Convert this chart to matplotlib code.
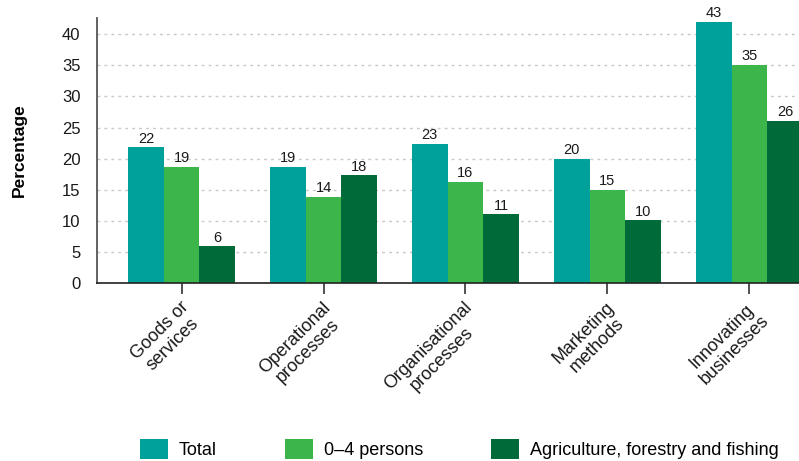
import numpy as np
import matplotlib.pyplot as plt
import matplotlib.transforms as mtransforms

plt.rcParams['font.family'] = ['Liberation Sans', 'DejaVu Sans']

categories = ['Goods or\nservices', 'Operational\nprocesses', 'Organisational\nprocesses',
              'Marketing\nmethods', 'Innovating\nbusinesses']
series_names = ['Total', '0\u20134 persons', 'Agriculture, forestry and fishing']

total = [21.9, 18.7, 22.4, 20.0, 42.0]
small = [18.7, 13.9, 16.3, 15.0, 35.1]
agri = [6.0, 17.4, 11.1, 10.1, 26.1]
total_lbl = ['22', '19', '23', '20', '43']
small_lbl = ['19', '14', '16', '15', '35']
agri_lbl = ['6', '18', '11', '10', '26']

colors = ['#00a19a', '#3cb54a', '#006a38']

fig = plt.figure(figsize=(7.99, 4.61), dpi=100)
ax = fig.add_axes([97 / 799, 1 - 283.3 / 461, 1 - 97 / 799, (283.3 - 18) / 461])

x = np.arange(len(categories))
w = 0.251
handles = []
for i, (vals, lbls) in enumerate([(total, total_lbl), (small, small_lbl), (agri, agri_lbl)]):
    bars = ax.bar(x + (i - 1) * w, vals, w, color=colors[i], label=series_names[i], zorder=3)
    handles.append(bars)
    for b, t in zip(bars, lbls):
        ax.annotate(t, (b.get_x() + b.get_width() / 2, b.get_height()), xytext=(0, 1),
                    textcoords='offset points', ha='center', va='bottom', fontsize=10.5,
                    color='#1a1a1a', clip_on=False)

ax.set_xlim(-0.596, 4.35)
ax.set_ylim(0, 42.6)
ax.set_yticks(range(0, 41, 5))
ax.tick_params(axis='y', length=0, labelsize=12, pad=12, labelcolor='#1a1a1a')
ax.tick_params(axis='x', length=8, width=1.2, color='#333333', direction='out')
ax.set_xticks(x)
ax.set_xticklabels(categories, rotation=45, ha='right', va='center', rotation_mode='anchor',
                   fontsize=13, linespacing=1.1, multialignment='center', color='#1a1a1a')
off = mtransforms.ScaledTranslation(11 / 100, -12 / 100, fig.dpi_scale_trans)
for lab in ax.get_xticklabels():
    lab.set_transform(lab.get_transform() + off)

ax.yaxis.grid(True, linestyle=(0, (2, 3)), color='#c8c8c8', linewidth=1, zorder=0)
for s in ['top', 'right']:
    ax.spines[s].set_visible(False)
ax.spines['left'].set_color('#555555')
ax.spines['left'].set_linewidth(1.3)
ax.spines['bottom'].set_color('#222222')
ax.spines['bottom'].set_linewidth(1.2)
ax.spines['bottom'].set_zorder(4)

fig.text(19 / 799, 1 - 150 / 461, 'Percentage', rotation=90, fontsize=12.5, fontweight='bold',
         ha='center', va='center')

fig.legend(handles=handles, loc='center left', bbox_to_anchor=(140 / 799, 1 - 449 / 461),
           ncol=3, frameon=False, fontsize=13, handlelength=1.56, handleheight=1.35,
           handletextpad=0.58, columnspacing=3.78, borderaxespad=0, borderpad=0)

fig.savefig('out.png', dpi=100)
